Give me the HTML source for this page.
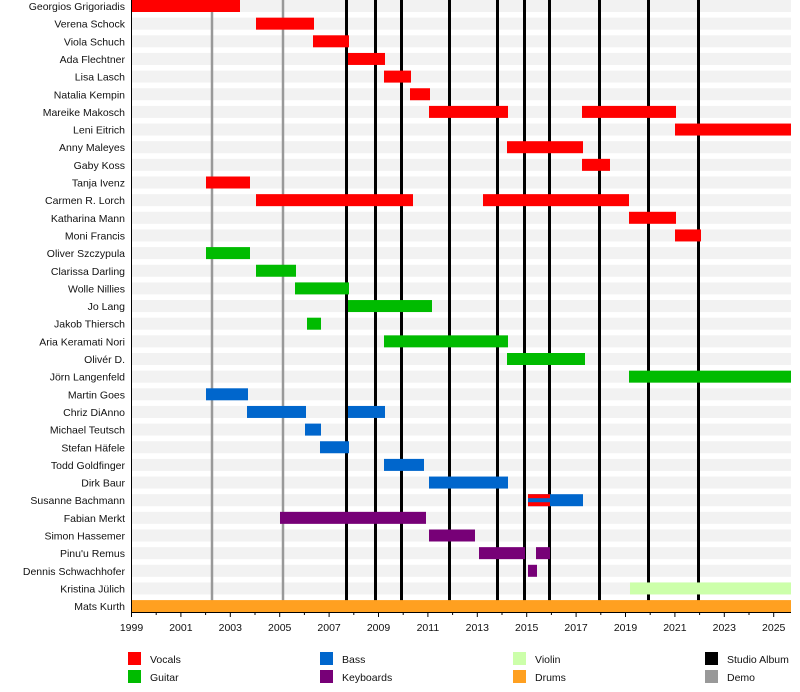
<!DOCTYPE html>
<html><head><meta charset="utf-8"><style>
body{margin:0;background:#fff;}
svg{display:block;font-family:"Liberation Sans",Arial,sans-serif;}
</style></head><body>
<svg width="800" height="692" viewBox="0 0 800 692" xmlns="http://www.w3.org/2000/svg">
<g id="stripes" fill="#f2f2f2"></g>
<g id="lines"></g>
<g id="bars"></g>
<g id="labels" font-size="10.5" fill="#111" text-anchor="end"></g>
<line x1="131" y1="612.5" x2="791" y2="612.5" stroke="#000" stroke-width="1"/>
<line x1="131.5" y1="0" x2="131.5" y2="613" stroke="#000" stroke-width="1"/>
<g id="ticks" font-size="10.5" fill="#111" text-anchor="middle"></g>
<g font-size="10.5" fill="#111">
<rect x="128" y="652" width="13" height="13" fill="#ff0000"/><text x="150" y="663">Vocals</text>
<rect x="128" y="670" width="13" height="13" fill="#00bb00"/><text x="150" y="681">Guitar</text>
<rect x="320" y="652" width="13" height="13" fill="#0066cc"/><text x="342" y="663">Bass</text>
<rect x="320" y="670" width="13" height="13" fill="#770077"/><text x="342" y="681">Keyboards</text>
<rect x="513" y="652" width="13" height="13" fill="#ccffaa"/><text x="535" y="663">Violin</text>
<rect x="513" y="670" width="13" height="13" fill="#ffa020"/><text x="535" y="681">Drums</text>
<rect x="705" y="652" width="13" height="13" fill="#000"/><text x="727" y="663">Studio Album</text>
<rect x="705" y="670" width="13" height="13" fill="#999"/><text x="727" y="681">Demo</text>
</g>
<script>
var NS="http://www.w3.org/2000/svg";
function el(g,t,a,txt){var e=document.createElementNS(NS,t);for(var k in a)e.setAttribute(k,a[k]);if(txt)e.textContent=txt;document.getElementById(g).appendChild(e);}
var R="#ff0000",G="#00bb00",B="#0066cc",P="#770077",V="#ccffaa",O="#ffa020";
var rows=[
["Georgios Grigoriadis",[[131,240,R]]],
["Verena Schock",[[256,314,R]]],
["Viola Schuch",[[313,349,R]]],
["Ada Flechtner",[[348,385,R]]],
["Lisa Lasch",[[384,411,R]]],
["Natalia Kempin",[[410,430,R]]],
["Mareike Makosch",[[429,508,R],[582,676,R]]],
["Leni Eitrich",[[675,791,R]]],
["Anny Maleyes",[[507,583,R]]],
["Gaby Koss",[[582,610,R]]],
["Tanja Ivenz",[[206,250,R]]],
["Carmen R. Lorch",[[256,413,R],[483,629,R]]],
["Katharina Mann",[[629,676,R]]],
["Moni Francis",[[675,701,R]]],
["Oliver Szczypula",[[206,250,G]]],
["Clarissa Darling",[[256,296,G]]],
["Wolle Nillies",[[295,349,G]]],
["Jo Lang",[[348,432,G]]],
["Jakob Thiersch",[[307,321,G]]],
["Aria Keramati Nori",[[384,508,G]]],
["Olivér D.",[[507,585,G]]],
["Jörn Langenfeld",[[629,791,G]]],
["Martin Goes",[[206,248,B]]],
["Chriz DiAnno",[[247,306,B],[348,385,B]]],
["Michael Teutsch",[[305,321,B]]],
["Stefan Häfele",[[320,349,B]]],
["Todd Goldfinger",[[384,424,B]]],
["Dirk Baur",[[429,508,B]]],
["Susanne Bachmann",[[528,583,B],[528,550,R]]],
["Fabian Merkt",[[280,426,P]]],
["Simon Hassemer",[[429,475,P]]],
["Pinu'u Remus",[[479,525,P],[536,550,P]]],
["Dennis Schwachhofer",[[528,537,P]]],
["Kristina Jülich",[[630,791,V]]],
["Mats Kurth",[[131,791,O]]]
];
var pitch=17.65;
rows.forEach(function(r,i){
 var y=i*pitch;
 el("stripes","rect",{x:131,y:y,width:660,height:12});
 el("labels","text",{x:125,y:y+10},r[0]);
 r[1].forEach(function(b){el("bars","rect",{x:b[0],y:y,width:b[1]-b[0],height:12,fill:b[2]});});
 if(r[0]=="Susanne Bachmann")el("bars","rect",{x:528,y:y+4,width:22,height:4,fill:B});
});
[212,283].forEach(function(x){el("lines","line",{x1:x,y1:0,x2:x,y2:612,stroke:"#999","stroke-width":2.5});});
[346.5,375.5,401.5,449.5,497.5,524.5,549.5,599.5,648.5,698.5].forEach(function(x){el("lines","line",{x1:x,y1:0,x2:x,y2:612,stroke:"#000","stroke-width":3});});
for(var yr=1999;yr<=2025;yr++){
 var x=131.5+24.7*(yr-1999);
 el("ticks","line",{x1:x,y1:612,x2:x,y2:(yr%2?617:615),stroke:"#000","stroke-width":1});
 if(yr%2)el("ticks","text",{x:x,y:631},String(yr));
}
</script>
</svg>
</body></html>
